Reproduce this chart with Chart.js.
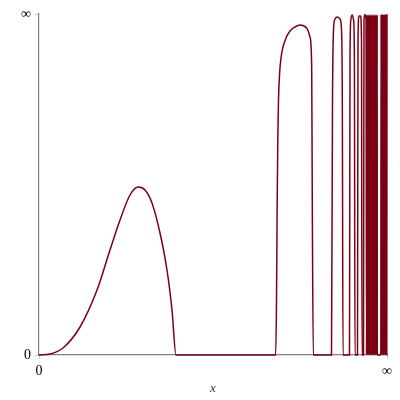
<!DOCTYPE html>
<html>
<head>
<meta charset="utf-8">
<script src="https://cdn.jsdelivr.net/npm/chart.js@4/dist/chart.umd.min.js"></script>
<style>
html,body{margin:0;padding:0;background:#fff;}
#c{display:block;}
</style>
</head>
<body>
<canvas id="c" width="400" height="400"></canvas>
<script>
// Compactified x (0 .. ∞ mapped to 0 .. 1) and y (0 .. ∞ mapped to 0 .. 1)
const xTickLabels = ['0', '∞'];
const yTickLabels = ['0', '∞'];
const axisTitle = 'x';

// first smooth bump
const bump1X = [0, 0.0316, 0.069, 0.1178, 0.1667, 0.204, 0.2328, 0.2615, 0.2845, 0.3046, 0.3247, 0.3477, 0.3678, 0.3822, 0.3937];
const bump1Y = [0, 0.0029, 0.0205, 0.0821, 0.1906, 0.3079, 0.3959, 0.4692, 0.4927, 0.4839, 0.4457, 0.3578, 0.2493, 0.132, 0];

// second (tall) bump
const bump2X = [0.6802, 0.6825, 0.6845, 0.6862, 0.6882, 0.6911, 0.6954, 0.7011, 0.7098, 0.7213, 0.7356, 0.75, 0.7693, 0.7787, 0.7836, 0.7853, 0.7882];
const bump2Y = [0, 0.1613, 0.4545, 0.6305, 0.7478, 0.8211, 0.871, 0.9032, 0.9296, 0.9501, 0.9619, 0.9677, 0.9589, 0.9326, 0.8446, 0.4545, 0];

// narrowing oscillations
const oscX = [0.8405, 0.8434, 0.8463, 0.8506, 0.8578, 0.8649, 0.8693, 0.8716, 0.8736,
              0.8922, 0.8937, 0.8960, 0.9, 0.904, 0.9063, 0.908,
              0.9152, 0.9167, 0.9195, 0.9239, 0.9267, 0.9282,
              0.9325, 0.9339, 0.9368, 0.9397, 0.9411];
const oscY = [0, 0.7478, 0.9531, 0.9853, 0.9912, 0.9853, 0.9531, 0.7478, 0,
              0, 0.8651, 0.9824, 0.9971, 0.9824, 0.8651, 0,
              0, 0.9238, 0.9941, 0.9941, 0.9238, 0,
              0, 0.9824, 0.9985, 0.9824, 0];

// dense block 1
const dense1X = [0.9425, 0.9434, 0.9443, 0.9451, 0.9460, 0.9468, 0.9477, 0.9486, 0.9494, 0.9503, 0.9511,
                 0.9520, 0.9529, 0.9537, 0.9546, 0.9555, 0.9563, 0.9572, 0.9580, 0.9589, 0.9598, 0.9606,
                 0.9615, 0.9623, 0.9632, 0.9641, 0.9649, 0.9658, 0.9666, 0.9675, 0.9684, 0.9692, 0.9701,
                 0.9709, 0.9718, 0.9722];
const dense1Y = [0.998, 0, 0.998, 0, 0.998, 0, 0.998, 0, 0.998, 0, 0.998,
                 0, 0.998, 0, 0.998, 0, 0.998, 0, 0.998, 0, 0.998, 0,
                 0.998, 0, 0.998, 0, 0.998, 0, 0.998, 0, 0.998, 0, 0.998,
                 0, 0.998, 0];

// dense block 2
const dense2X = [0.9822, 0.9830, 0.9839, 0.9848, 0.9856, 0.9865, 0.9874, 0.9882, 0.9891, 0.9899, 0.9908,
                 0.9917, 0.9925, 0.9934, 0.9943, 0.9951, 0.9960, 0.9968, 0.9977, 0.9986, 0.9994, 1.0];
const dense2Y = [0, 0.999, 0, 0.999, 0, 0.999, 0, 0.999, 0, 0.999, 0,
                 0.999, 0, 0.999, 0, 0.999, 0, 0.999, 0, 0.999, 0, 0.999];

const xValues = [].concat(bump1X, bump2X, oscX, dense1X, dense2X);
const yValues = [].concat(bump1Y, bump2Y, oscY, dense1Y, dense2Y);
const points = xValues.map((x, i) => ({x: x, y: yValues[i]}));

const serif = "'Liberation Serif', 'DejaVu Serif', serif";

new Chart(document.getElementById('c'), {
  type: 'scatter',
  data: {
    datasets: [{
      data: points,
      showLine: true,
      pointRadius: 0,
      borderColor: 'rgb(122,0,22)',
      borderWidth: 1.5,
      cubicInterpolationMode: 'monotone',
      fill: false,
      clip: 3
    }]
  },
  options: {
    responsive: false,
    animation: false,
    devicePixelRatio: 1,
    layout: { padding: { top: 14, right: 13, left: 0, bottom: 0 } },
    plugins: { legend: { display: false }, tooltip: { enabled: false } },
    scales: {
      x: {
        type: 'linear',
        min: 0, max: 1,
        afterBuildTicks: s => { s.ticks = [{value: 0}, {value: 1}]; },
        afterFit: s => { s.height = 45; },
        ticks: {
          callback: (v) => v === 0 ? xTickLabels[0] : xTickLabels[1],
          font: { family: serif, size: 14 },
          color: '#000',
          maxRotation: 0,
          autoSkip: false,
          padding: 4
        },
        grid: { display: true, drawOnChartArea: false, drawTicks: true, tickLength: 4, tickColor: '#cccccc' },
        border: { color: '#808080', width: 1.2 },
        title: { display: true, text: axisTitle, font: { family: serif, size: 13, style: 'italic' }, color: '#333' }
      },
      y: {
        type: 'linear',
        min: 0, max: 1,
        afterBuildTicks: s => { s.ticks = [{value: 0}, {value: 1}]; },
        afterFit: s => { s.width = 39; },
        ticks: {
          callback: (v) => v === 0 ? yTickLabels[0] : yTickLabels[1],
          font: { family: serif, size: 14 },
          color: '#000',
          autoSkip: false,
          padding: 4
        },
        grid: { display: true, drawOnChartArea: false, drawTicks: true, tickLength: 4, tickColor: '#cccccc' },
        border: { color: '#808080', width: 1.2 }
      }
    }
  }
});
</script>
</body>
</html>
